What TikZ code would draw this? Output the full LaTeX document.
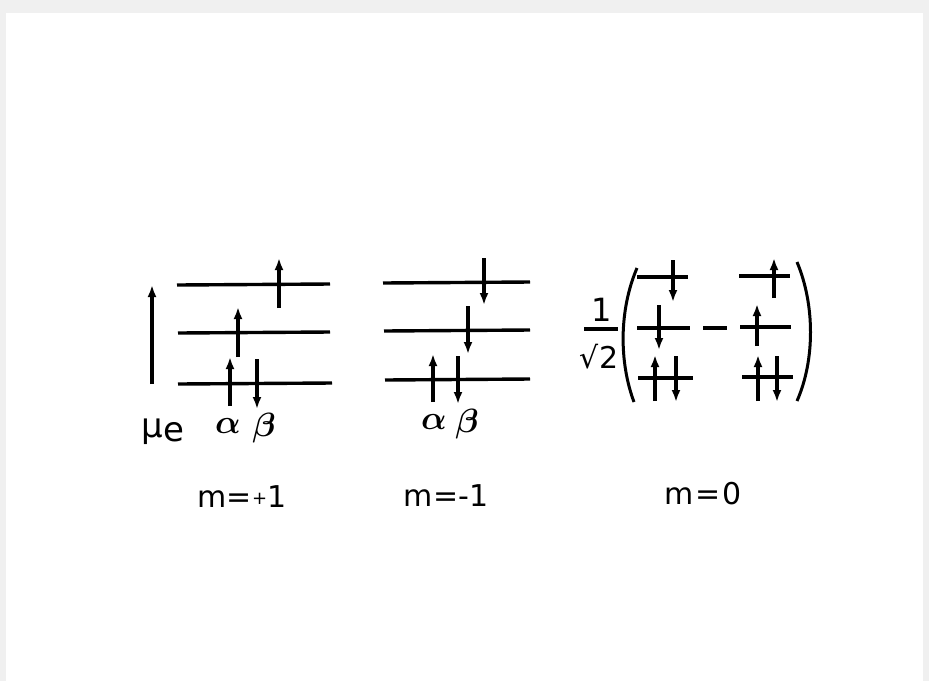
\documentclass[tikz,border=0pt]{standalone}
\usepackage{amsmath}
\usepackage{fontspec}
\setmainfont{DejaVu Sans}
\usetikzlibrary{arrows.meta}
\begin{document}
\begin{tikzpicture}[x=1pt,y=-1pt,
  lvl/.style={line width=3.4pt},
  spin/.style={line width=3.4pt,-{Latex[length=12pt,width=9pt]}},
  lab/.style={font=\fontsize{30}{30}\selectfont, inner sep=0pt},
  greek/.style={font=\fontsize{24}{24}\selectfont, inner sep=0pt}]
\useasboundingbox (0,0) rectangle (929,681);
\fill[gray!12] (0,0) rectangle (929,681);
\fill[white] (6,13) rectangle (923,681);
% ---------- m=+1 ----------
\draw[spin] (152,384) -- (152,285);
\draw[lvl] (177,285) -- (330,284);
\draw[lvl] (178,333) -- (330,332);
\draw[lvl] (178,384) -- (332,383);
\draw[spin] (279,308) -- (279,258);
\draw[spin] (238,357) -- (238,307);
\draw[spin] (230,406) -- (230,357);
\draw[spin] (257,359) -- (257,409);
\node[lab, font=\fontsize{34}{34}\selectfont] (mue) at (163,432) {μ\kern1pt\raisebox{-4pt}{e}};
\node[greek] (a1) at (228,426) {\scalebox{1.35}{$\boldsymbol{\alpha}$}};
\node[greek] (b1) at (264,428) {\scalebox{1.35}{$\boldsymbol{\beta}$}};
\node[lab] (m1) at (242,497) {m=\raisebox{3pt}{\fontsize{18}{18}\selectfont +}1};
% ---------- m=-1 ----------
\draw[lvl] (383,283) -- (530,282);
\draw[lvl] (384,331) -- (530,330);
\draw[lvl] (385,380) -- (530,379);
\draw[spin] (484,258) -- (484,305);
\draw[spin] (468,306) -- (468,354);
\draw[spin] (433,402) -- (433,354);
\draw[spin] (458,356) -- (458,404);
\node[greek] (a2) at (434,422) {\scalebox{1.35}{$\boldsymbol{\alpha}$}};
\node[greek] (b2) at (467,424) {\scalebox{1.35}{$\boldsymbol{\beta}$}};
\node[lab] (m2) at (446,496) {m=-1};
% ---------- m=0 ----------
\node[inner sep=0pt, font=\fontsize{32}{32}\selectfont] (one) at (602,310) {1};
\draw[line width=3.2pt] (584,329) -- (618,329);
\node[inner sep=0pt, font=\fontsize{30}{30}\selectfont] (sq) at (599,357) {√2};
\draw[line width=3pt] (637,268) .. controls (619,310) and (619,362) .. (634,402);
\draw[line width=3pt] (797,262) .. controls (815,305) and (815,360) .. (797,401);
% first term
\draw[lvl] (637,277) -- (688,277);
\draw[lvl] (637,328) -- (690,328);
\draw[lvl] (638,378) -- (693,378);
\draw[spin] (673,260) -- (673,302);
\draw[spin] (659,305) -- (659,350);
\draw[spin] (655,401) -- (655,355);
\draw[spin] (676,356) -- (676,402);
% minus
\draw[line width=3.2pt] (703,328) -- (727,328);
% second term
\draw[lvl] (739,276) -- (790,276);
\draw[lvl] (740,327) -- (791,327);
\draw[lvl] (742,377) -- (793,377);
\draw[spin] (774,298) -- (774,258);
\draw[spin] (757,346) -- (757,304);
\draw[spin] (758,401) -- (758,355);
\draw[spin] (777,356) -- (777,402);
\node[lab] (m0) at (703,494) {m\kern2pt=\kern1pt0};
\end{tikzpicture}
\end{document}
